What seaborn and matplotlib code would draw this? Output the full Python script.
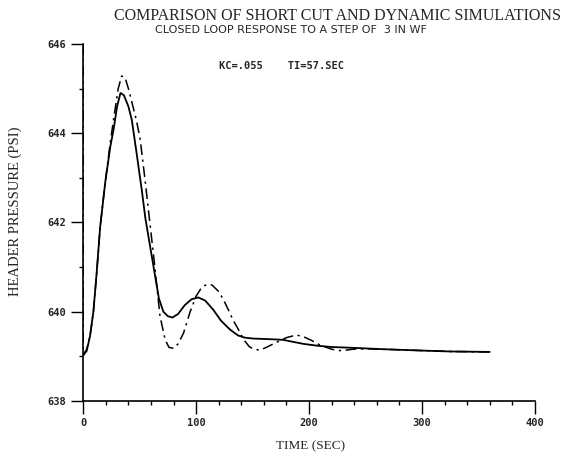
import pandas as pd
import seaborn as sns
import matplotlib.pyplot as plt
from matplotlib.ticker import MultipleLocator

# dynamic simulation (solid)
dyn_t = [0, 3, 6, 9, 12, 15, 19.5, 24, 27, 30, 33, 36, 40, 43, 47, 52, 55, 59, 63, 67,
         71, 75, 79, 84, 90, 96, 102, 108, 115, 122, 130, 137, 143, 150, 160, 170, 177,
         185, 195, 207, 220, 240, 266, 300, 325, 360]
dyn_p = [639.02, 639.12, 639.45, 640.0, 640.9, 641.9, 642.9, 643.7, 644.1, 644.6, 644.9,
         644.85, 644.6, 644.3, 643.6, 642.7, 642.1, 641.5, 640.9, 640.3, 640.0, 639.9,
         639.87, 639.95, 640.15, 640.28, 640.32, 640.25, 640.05, 639.8, 639.6, 639.47,
         639.42, 639.4, 639.39, 639.38, 639.37, 639.33, 639.28, 639.24, 639.21, 639.19,
         639.16, 639.13, 639.11, 639.1]

# short cut simulation (dash-dot)
sc_t = [0, 0, 3, 6, 9, 12, 15, 19.5, 24, 28, 31, 34, 37, 40, 44, 47, 50.4, 55, 59, 63,
        68, 72.6, 76, 80, 84, 88.8, 94.7, 100, 105, 109.5, 114, 119.7, 124, 128.6, 133,
        137.5, 142, 147, 151, 156.6, 162, 170, 180, 189, 196, 202, 210, 220, 227, 233,
        239, 250, 266, 300, 325, 360]
sc_p = [646.0, 639.05, 639.15, 639.45, 640.0, 640.9, 641.9, 642.9, 643.8, 644.5, 645.0,
        645.28, 645.25, 645.0, 644.6, 644.3, 643.87, 642.9, 642.0, 641.1, 639.9, 639.37,
        639.2, 639.18, 639.28, 639.52, 640.0, 640.35, 640.55, 640.61, 640.6, 640.46,
        640.28, 640.04, 639.8, 639.6, 639.38, 639.22, 639.16, 639.14, 639.2, 639.3,
        639.42, 639.48, 639.43, 639.36, 639.25, 639.16, 639.13, 639.14, 639.16, 639.17,
        639.16, 639.13, 639.11, 639.1]

x_ticks = [0, 100, 200, 300, 400]
y_ticks = [638, 640, 642, 644, 646]

sns.set_theme(style="ticks")
plt.rcParams["font.family"] = ["DejaVu Sans"]

dyn = pd.DataFrame({"t": dyn_t, "p": dyn_p})
sc = pd.DataFrame({"t": sc_t, "p": sc_p})

fig = plt.figure(figsize=(5.82, 4.62), dpi=100)
ax = fig.add_axes([0.143, 0.132, 0.776, 0.773])

sns.lineplot(data=dyn, x="t", y="p", estimator=None, sort=False, color="black",
             linewidth=1.3, ax=ax)
sns.lineplot(data=sc, x="t", y="p", estimator=None, sort=False, color="black",
             linewidth=1.1, dashes=False, ax=ax)
ax.lines[-1].set_dashes([7, 3, 1.5, 3])

ax.set_xlim(0, 400)
ax.set_ylim(638, 646)
ax.set_xticks(x_ticks)
ax.set_yticks(y_ticks)
ax.xaxis.set_minor_locator(MultipleLocator(20))
ax.yaxis.set_minor_locator(MultipleLocator(1))
ax.tick_params(which="major", length=9, width=1, color="black", direction="out", pad=3)
ax.tick_params(which="minor", length=3, width=1, color="black", direction="out")
for lbl in ax.get_xticklabels() + ax.get_yticklabels():
    lbl.set_fontfamily("DejaVu Sans Mono")
    lbl.set_fontweight("bold")
    lbl.set_fontsize(7.5)
for s in ["top", "right"]:
    ax.spines[s].set_visible(False)
for s in ["left", "bottom"]:
    ax.spines[s].set_color("black")
    ax.spines[s].set_linewidth(1.2)

ax.set_xlabel("TIME (SEC)", family="Liberation Serif", fontsize=9.5)
ax.xaxis.set_label_coords(0.504, -0.11)
ax.set_ylabel("HEADER PRESSURE (PSI)", family="Liberation Serif", fontsize=10.5)
ax.yaxis.set_label_coords(-0.135, 0.532)

fig.text(0.58, 0.965, "COMPARISON OF SHORT CUT AND DYNAMIC SIMULATIONS",
         family="Liberation Serif", fontsize=11.5, ha="center", va="center")
fig.text(0.50, 0.935, "CLOSED LOOP RESPONSE TO A STEP OF  3 IN WF",
         family="DejaVu Sans", fontsize=8, ha="center", va="center")
ax.text(120, 645.5, "KC=.055    TI=57.SEC", family="DejaVu Sans Mono",
        fontweight="bold", fontsize=7.5, ha="left", va="center")

fig.savefig("out.png", dpi=100)
